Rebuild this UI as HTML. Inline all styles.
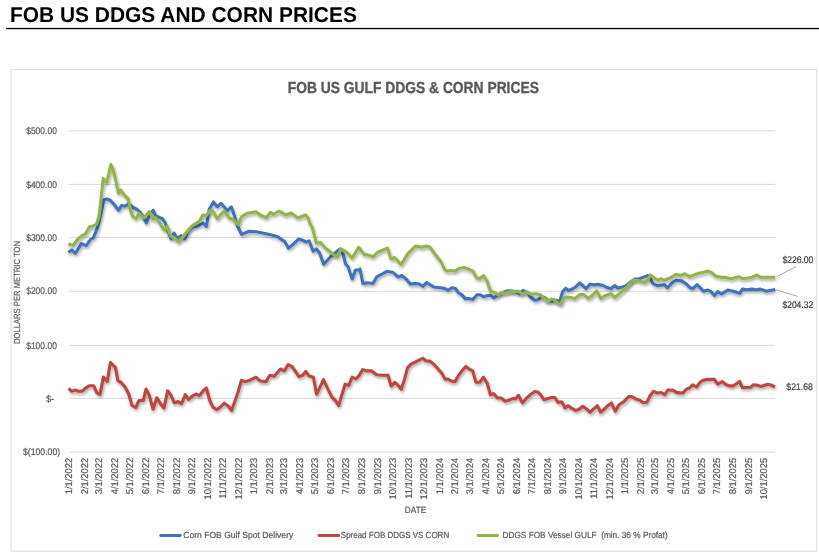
<!DOCTYPE html>
<html><head><meta charset="utf-8"><title>FOB US DDGS and Corn Prices</title>
<style>html,body{margin:0;padding:0;background:#fff;width:819px;height:554px;overflow:hidden;}
body{position:relative;font-family:"Liberation Sans", sans-serif;}</style></head>
<body>
<svg width="819" height="554" viewBox="0 0 819 554" style="position:absolute;left:0;top:0;opacity:0.999;text-rendering:geometricPrecision" font-family='"Liberation Sans", sans-serif'>
<defs><filter id="sh" x="-5%" y="-10%" width="110%" height="130%">
<feGaussianBlur in="SourceAlpha" stdDeviation="1.5" result="b"/>
<feOffset in="b" dx="0.8" dy="2.3" result="o"/>
<feComponentTransfer in="o" result="o2"><feFuncA type="linear" slope="0.35"/></feComponentTransfer>
<feMerge><feMergeNode in="o2"/><feMergeNode in="SourceGraphic"/></feMerge></filter></defs>
<rect x="6" y="27.9" width="813" height="1.3" fill="#000"/>
<rect x="11.1" y="69.6" width="805.5" height="481.6" fill="#fff" stroke="#e2e2e2" stroke-width="1.2"/>
<rect x="68.7" y="130.40" width="706.4" height="1" fill="#d9d9d9"/>
<rect x="68.7" y="183.90" width="706.4" height="1" fill="#d9d9d9"/>
<rect x="68.7" y="236.90" width="706.4" height="1" fill="#d9d9d9"/>
<rect x="68.7" y="290.75" width="706.4" height="1" fill="#d9d9d9"/>
<rect x="68.7" y="344.85" width="706.4" height="1" fill="#d9d9d9"/>
<rect x="68.7" y="397.80" width="706.4" height="1" fill="#d9d9d9"/>
<rect x="68.7" y="451.70" width="706.4" height="1" fill="#d9d9d9"/>
<text id="page_title" x="9.90" y="21.80" font-size="21.4" fill="#000" font-weight="bold" textLength="347.00" lengthAdjust="spacingAndGlyphs">FOB US DDGS AND CORN PRICES</text>
<text id="chart_title" x="287.80" y="93.00" font-size="16.0" fill="#595959" font-weight="bold" stroke="#595959" stroke-width="0.35" textLength="251.07" lengthAdjust="spacingAndGlyphs">FOB US GULF DDGS &amp; CORN PRICES</text>
<text id="y500" x="26.20" y="134.10" font-size="9.6" fill="#595959" font-weight="normal" stroke="#595959" stroke-width="0.2" textLength="30.67" lengthAdjust="spacingAndGlyphs">$500.00</text>
<text id="y400" x="26.20" y="187.60" font-size="9.6" fill="#595959" font-weight="normal" stroke="#595959" stroke-width="0.2" textLength="30.67" lengthAdjust="spacingAndGlyphs">$400.00</text>
<text id="y300" x="26.20" y="240.60" font-size="9.6" fill="#595959" font-weight="normal" stroke="#595959" stroke-width="0.2" textLength="30.67" lengthAdjust="spacingAndGlyphs">$300.00</text>
<text id="y200" x="26.20" y="294.45" font-size="9.6" fill="#595959" font-weight="normal" stroke="#595959" stroke-width="0.2" textLength="30.67" lengthAdjust="spacingAndGlyphs">$200.00</text>
<text id="y100" x="26.20" y="348.55" font-size="9.6" fill="#595959" font-weight="normal" stroke="#595959" stroke-width="0.2" textLength="30.67" lengthAdjust="spacingAndGlyphs">$100.00</text>
<text id="y0" x="46.00" y="401.50" font-size="9.6" fill="#595959" font-weight="normal" stroke="#595959" stroke-width="0.2" textLength="8.23" lengthAdjust="spacingAndGlyphs">$-</text>
<text id="yneg" x="23.00" y="455.40" font-size="9.6" fill="#595959" font-weight="normal" stroke="#595959" stroke-width="0.2" textLength="37.09" lengthAdjust="spacingAndGlyphs">$(100.00)</text>
<text id="date" x="404.80" y="512.90" font-size="9.2" fill="#595959" font-weight="normal" stroke="#595959" stroke-width="0.2" textLength="21.40" lengthAdjust="spacingAndGlyphs">DATE</text>
<text id="leg1" x="183.20" y="537.80" font-size="8.9" fill="#595959" font-weight="normal" stroke="#595959" stroke-width="0.2" textLength="110.09" lengthAdjust="spacingAndGlyphs">Corn FOB Gulf Spot Delivery</text>
<text id="leg2" x="340.80" y="537.80" font-size="8.9" fill="#595959" font-weight="normal" stroke="#595959" stroke-width="0.2" textLength="108.36" lengthAdjust="spacingAndGlyphs">Spread FOB DDGS VS CORN</text>
<text id="leg3" x="502.50" y="537.80" font-size="8.9" fill="#595959" font-weight="normal" stroke="#595959" stroke-width="0.2" textLength="165.15" lengthAdjust="spacingAndGlyphs">DDGS FOB Vessel GULF &#160;(min. 36 % Profat)</text>
<text id="l226" x="782.40" y="262.50" font-size="9.6" fill="#404040" font-weight="normal" stroke="#404040" stroke-width="0.2" textLength="30.99" lengthAdjust="spacingAndGlyphs">$226.00</text>
<text id="l204" x="782.40" y="307.60" font-size="9.6" fill="#404040" font-weight="normal" stroke="#404040" stroke-width="0.2" textLength="30.84" lengthAdjust="spacingAndGlyphs">$204.32</text>
<text id="l21" x="786.30" y="390.00" font-size="9.6" fill="#404040" font-weight="normal" stroke="#404040" stroke-width="0.2" textLength="26.60" lengthAdjust="spacingAndGlyphs">$21.68</text>
<text id="ytitle" transform="translate(20.40,344.00) rotate(-90)" font-size="8.9" fill="#595959" stroke="#595959" stroke-width="0.2" textLength="103.00" lengthAdjust="spacingAndGlyphs">DOLLARS PER METRIC TON</text>
<text transform="translate(72.04,457.90) rotate(-90) scale(0.955,1)" font-size="9.8" fill="#595959" stroke="#595959" stroke-width="0.2" text-anchor="end">1/1/2022</text>
<text transform="translate(87.77,457.90) rotate(-90) scale(0.955,1)" font-size="9.8" fill="#595959" stroke="#595959" stroke-width="0.2" text-anchor="end">2/1/2022</text>
<text transform="translate(101.98,457.90) rotate(-90) scale(0.955,1)" font-size="9.8" fill="#595959" stroke="#595959" stroke-width="0.2" text-anchor="end">3/1/2022</text>
<text transform="translate(117.72,457.90) rotate(-90) scale(0.955,1)" font-size="9.8" fill="#595959" stroke="#595959" stroke-width="0.2" text-anchor="end">4/1/2022</text>
<text transform="translate(132.94,457.90) rotate(-90) scale(0.955,1)" font-size="9.8" fill="#595959" stroke="#595959" stroke-width="0.2" text-anchor="end">5/1/2022</text>
<text transform="translate(148.68,457.90) rotate(-90) scale(0.955,1)" font-size="9.8" fill="#595959" stroke="#595959" stroke-width="0.2" text-anchor="end">6/1/2022</text>
<text transform="translate(163.90,457.90) rotate(-90) scale(0.955,1)" font-size="9.8" fill="#595959" stroke="#595959" stroke-width="0.2" text-anchor="end">7/1/2022</text>
<text transform="translate(179.63,457.90) rotate(-90) scale(0.955,1)" font-size="9.8" fill="#595959" stroke="#595959" stroke-width="0.2" text-anchor="end">8/1/2022</text>
<text transform="translate(195.37,457.90) rotate(-90) scale(0.955,1)" font-size="9.8" fill="#595959" stroke="#595959" stroke-width="0.2" text-anchor="end">9/1/2022</text>
<text transform="translate(210.59,457.90) rotate(-90) scale(0.955,1)" font-size="9.8" fill="#595959" stroke="#595959" stroke-width="0.2" text-anchor="end">10/1/2022</text>
<text transform="translate(226.33,457.90) rotate(-90) scale(0.955,1)" font-size="9.8" fill="#595959" stroke="#595959" stroke-width="0.2" text-anchor="end">11/1/2022</text>
<text transform="translate(241.55,457.90) rotate(-90) scale(0.955,1)" font-size="9.8" fill="#595959" stroke="#595959" stroke-width="0.2" text-anchor="end">12/1/2022</text>
<text transform="translate(257.28,457.90) rotate(-90) scale(0.955,1)" font-size="9.8" fill="#595959" stroke="#595959" stroke-width="0.2" text-anchor="end">1/1/2023</text>
<text transform="translate(273.02,457.90) rotate(-90) scale(0.955,1)" font-size="9.8" fill="#595959" stroke="#595959" stroke-width="0.2" text-anchor="end">2/1/2023</text>
<text transform="translate(287.23,457.90) rotate(-90) scale(0.955,1)" font-size="9.8" fill="#595959" stroke="#595959" stroke-width="0.2" text-anchor="end">3/1/2023</text>
<text transform="translate(302.96,457.90) rotate(-90) scale(0.955,1)" font-size="9.8" fill="#595959" stroke="#595959" stroke-width="0.2" text-anchor="end">4/1/2023</text>
<text transform="translate(318.19,457.90) rotate(-90) scale(0.955,1)" font-size="9.8" fill="#595959" stroke="#595959" stroke-width="0.2" text-anchor="end">5/1/2023</text>
<text transform="translate(333.92,457.90) rotate(-90) scale(0.955,1)" font-size="9.8" fill="#595959" stroke="#595959" stroke-width="0.2" text-anchor="end">6/1/2023</text>
<text transform="translate(349.15,457.90) rotate(-90) scale(0.955,1)" font-size="9.8" fill="#595959" stroke="#595959" stroke-width="0.2" text-anchor="end">7/1/2023</text>
<text transform="translate(364.88,457.90) rotate(-90) scale(0.955,1)" font-size="9.8" fill="#595959" stroke="#595959" stroke-width="0.2" text-anchor="end">8/1/2023</text>
<text transform="translate(380.61,457.90) rotate(-90) scale(0.955,1)" font-size="9.8" fill="#595959" stroke="#595959" stroke-width="0.2" text-anchor="end">9/1/2023</text>
<text transform="translate(395.84,457.90) rotate(-90) scale(0.955,1)" font-size="9.8" fill="#595959" stroke="#595959" stroke-width="0.2" text-anchor="end">10/1/2023</text>
<text transform="translate(411.57,457.90) rotate(-90) scale(0.955,1)" font-size="9.8" fill="#595959" stroke="#595959" stroke-width="0.2" text-anchor="end">11/1/2023</text>
<text transform="translate(426.80,457.90) rotate(-90) scale(0.955,1)" font-size="9.8" fill="#595959" stroke="#595959" stroke-width="0.2" text-anchor="end">12/1/2023</text>
<text transform="translate(442.53,457.90) rotate(-90) scale(0.955,1)" font-size="9.8" fill="#595959" stroke="#595959" stroke-width="0.2" text-anchor="end">1/1/2024</text>
<text transform="translate(458.26,457.90) rotate(-90) scale(0.955,1)" font-size="9.8" fill="#595959" stroke="#595959" stroke-width="0.2" text-anchor="end">2/1/2024</text>
<text transform="translate(472.98,457.90) rotate(-90) scale(0.955,1)" font-size="9.8" fill="#595959" stroke="#595959" stroke-width="0.2" text-anchor="end">3/1/2024</text>
<text transform="translate(488.71,457.90) rotate(-90) scale(0.955,1)" font-size="9.8" fill="#595959" stroke="#595959" stroke-width="0.2" text-anchor="end">4/1/2024</text>
<text transform="translate(503.94,457.90) rotate(-90) scale(0.955,1)" font-size="9.8" fill="#595959" stroke="#595959" stroke-width="0.2" text-anchor="end">5/1/2024</text>
<text transform="translate(519.67,457.90) rotate(-90) scale(0.955,1)" font-size="9.8" fill="#595959" stroke="#595959" stroke-width="0.2" text-anchor="end">6/1/2024</text>
<text transform="translate(534.90,457.90) rotate(-90) scale(0.955,1)" font-size="9.8" fill="#595959" stroke="#595959" stroke-width="0.2" text-anchor="end">7/1/2024</text>
<text transform="translate(550.63,457.90) rotate(-90) scale(0.955,1)" font-size="9.8" fill="#595959" stroke="#595959" stroke-width="0.2" text-anchor="end">8/1/2024</text>
<text transform="translate(566.36,457.90) rotate(-90) scale(0.955,1)" font-size="9.8" fill="#595959" stroke="#595959" stroke-width="0.2" text-anchor="end">9/1/2024</text>
<text transform="translate(581.59,457.90) rotate(-90) scale(0.955,1)" font-size="9.8" fill="#595959" stroke="#595959" stroke-width="0.2" text-anchor="end">10/1/2024</text>
<text transform="translate(597.32,457.90) rotate(-90) scale(0.955,1)" font-size="9.8" fill="#595959" stroke="#595959" stroke-width="0.2" text-anchor="end">11/1/2024</text>
<text transform="translate(612.55,457.90) rotate(-90) scale(0.955,1)" font-size="9.8" fill="#595959" stroke="#595959" stroke-width="0.2" text-anchor="end">12/1/2024</text>
<text transform="translate(628.28,457.90) rotate(-90) scale(0.955,1)" font-size="9.8" fill="#595959" stroke="#595959" stroke-width="0.2" text-anchor="end">1/1/2025</text>
<text transform="translate(644.02,457.90) rotate(-90) scale(0.955,1)" font-size="9.8" fill="#595959" stroke="#595959" stroke-width="0.2" text-anchor="end">2/1/2025</text>
<text transform="translate(658.23,457.90) rotate(-90) scale(0.955,1)" font-size="9.8" fill="#595959" stroke="#595959" stroke-width="0.2" text-anchor="end">3/1/2025</text>
<text transform="translate(673.96,457.90) rotate(-90) scale(0.955,1)" font-size="9.8" fill="#595959" stroke="#595959" stroke-width="0.2" text-anchor="end">4/1/2025</text>
<text transform="translate(689.18,457.90) rotate(-90) scale(0.955,1)" font-size="9.8" fill="#595959" stroke="#595959" stroke-width="0.2" text-anchor="end">5/1/2025</text>
<text transform="translate(704.92,457.90) rotate(-90) scale(0.955,1)" font-size="9.8" fill="#595959" stroke="#595959" stroke-width="0.2" text-anchor="end">6/1/2025</text>
<text transform="translate(720.14,457.90) rotate(-90) scale(0.955,1)" font-size="9.8" fill="#595959" stroke="#595959" stroke-width="0.2" text-anchor="end">7/1/2025</text>
<text transform="translate(735.88,457.90) rotate(-90) scale(0.955,1)" font-size="9.8" fill="#595959" stroke="#595959" stroke-width="0.2" text-anchor="end">8/1/2025</text>
<text transform="translate(751.61,457.90) rotate(-90) scale(0.955,1)" font-size="9.8" fill="#595959" stroke="#595959" stroke-width="0.2" text-anchor="end">9/1/2025</text>
<text transform="translate(766.83,457.90) rotate(-90) scale(0.955,1)" font-size="9.8" fill="#595959" stroke="#595959" stroke-width="0.2" text-anchor="end">10/1/2025</text>
<polyline points="68.7,388.4 71.4,391.2 75.7,390.1 78.5,391.2 82.2,391.2 86.0,387.9 89.3,385.7 93.6,385.7 96.9,392.8 100.1,394.4 103.4,377.1 107.2,381.4 110.4,362.5 115.3,367.3 118.0,380.9 121.2,382.5 125.4,387.5 128.7,394.0 131.9,405.4 135.7,407.5 139.0,400.5 143.3,400.5 146.0,389.1 149.2,395.1 153.0,409.2 156.8,397.8 160.6,403.7 163.9,408.1 167.7,390.7 170.9,395.1 174.2,402.7 178.2,401.6 181.5,403.7 185.3,394.5 188.5,399.4 192.3,396.2 196.1,394.0 199.4,395.6 203.2,390.7 206.4,388.0 209.7,400.5 212.9,407.0 216.7,409.7 220.5,407.0 224.3,403.2 228.1,405.9 231.6,410.5 235.1,400.6 238.2,391.7 241.4,380.4 245.2,381.6 249.6,380.4 255.9,377.2 260.3,381.0 266.0,381.6 269.8,375.3 274.2,376.3 280.5,369.0 284.3,370.9 288.2,364.6 291.9,366.5 295.1,370.9 298.9,376.6 302.7,375.3 305.8,371.5 309.0,375.9 313.4,377.2 316.6,394.3 319.7,387.9 323.5,379.7 327.3,387.9 331.7,396.8 335.5,400.6 338.7,405.6 341.2,396.8 342.5,393.0 345.1,384.2 348.8,385.4 352.0,377.2 355.8,378.9 358.9,375.9 362.7,369.6 366.5,370.9 371.6,370.9 376.6,374.7 382.9,375.3 388.0,375.3 391.2,386.1 394.9,382.3 398.2,385.4 401.3,389.2 404.5,379.1 407.6,367.7 411.4,363.9 415.2,362.1 419.0,360.2 422.8,358.3 425.9,360.8 430.4,361.4 434.2,364.6 439.2,370.3 442.4,374.1 444.9,379.1 448.0,379.1 451.2,381.0 455.1,381.6 458.2,375.9 462.0,370.8 465.8,366.4 468.9,368.9 472.7,370.8 475.9,382.2 479.7,382.2 483.5,377.2 487.3,383.5 490.4,394.8 493.6,393.6 497.4,398.0 501.2,398.0 504.9,401.2 508.8,400.2 512.6,398.6 515.8,398.6 518.5,395.3 522.3,402.9 526.7,398.0 531.0,394.2 534.8,391.5 538.0,392.1 540.7,394.8 544.0,399.7 547.8,398.6 551.6,397.5 554.8,397.5 558.1,402.4 561.3,401.8 562.2,402.5 564.9,407.9 568.1,405.7 571.9,408.4 575.7,410.6 579.5,409.0 582.7,406.3 586.5,409.0 590.3,412.2 594.1,408.4 597.4,405.7 600.6,412.2 604.4,409.0 607.7,405.7 611.4,403.0 615.2,411.2 618.8,405.0 623.7,401.7 629.1,396.3 632.3,396.8 636.1,399.0 639.4,400.1 643.2,402.8 647.0,402.2 649.7,396.3 653.4,391.4 657.2,393.0 661.0,392.5 664.8,394.7 668.1,389.8 671.3,390.3 673.2,390.2 676.5,392.4 679.7,392.9 683.0,392.9 685.7,389.7 689.5,388.0 692.7,384.8 696.5,387.0 699.8,382.6 702.5,380.5 706.8,379.4 714.4,379.4 717.7,384.2 722.0,381.5 726.3,384.8 729.3,385.9 733.1,385.9 736.4,383.7 739.6,381.5 742.3,387.5 746.7,387.5 750.5,387.3 753.2,384.8 757.5,385.3 760.7,386.4 767.8,384.2 771.6,385.3 775.0,387.0" fill="none" stroke="#bd4542" stroke-width="3.1" stroke-linejoin="round" stroke-linecap="butt" filter="url(#sh)"/>
<polyline points="68.4,252.5 71.7,250.0 75.4,253.3 81.4,243.6 86.3,245.7 90.4,239.5 93.3,237.9 97.3,228.2 100.6,215.2 103.8,199.7 107.1,198.9 110.3,200.5 113.6,203.8 118.5,210.3 121.7,205.4 125.0,206.2 129.0,203.8 132.3,207.0 137.2,209.5 140.0,212.2 143.2,216.6 146.3,222.9 149.5,214.7 153.3,210.3 155.8,216.0 158.9,217.3 162.1,218.5 165.3,222.9 167.8,230.5 170.9,238.7 174.1,233.0 177.3,238.7 181.1,235.6 184.8,238.7 188.6,229.9 193.0,226.7 197.5,226.1 199.3,225.2 203.1,223.0 206.4,226.3 209.1,209.5 213.4,201.9 217.2,206.8 221.0,203.5 227.5,210.6 231.3,206.8 234.5,216.0 237.8,226.8 241.6,234.4 249.2,231.2 256.5,231.8 269.5,234.5 271.7,235.1 277.6,236.7 284.7,241.6 288.4,248.1 293.9,243.7 298.7,238.9 303.1,240.5 306.3,242.1 309.1,240.8 313.1,251.3 316.4,248.9 319.6,253.0 323.7,264.3 331.0,256.2 335.1,253.0 340.0,248.9 343.2,254.6 345.7,264.3 348.1,266.8 352.2,279.0 355.4,270.0 358.7,270.0 360.0,269.0 362.9,283.5 367.2,282.7 373.0,283.5 376.6,277.0 387.4,271.2 393.2,272.6 398.2,277.0 401.8,275.5 406.2,279.1 410.5,284.2 415.5,283.4 419.3,284.1 422.9,286.3 426.5,282.6 433.8,287.0 440.2,287.7 444.6,288.4 448.2,290.3 451.8,287.7 455.4,288.4 458.3,292.7 461.9,294.9 465.5,298.9 468.4,298.5 472.7,299.5 477.0,294.7 480.3,294.7 483.5,296.8 486.8,295.7 490.6,295.2 493.8,297.9 498.2,294.7 505.7,291.4 510.1,290.9 516.6,292.0 519.8,293.6 523.1,290.3 525.8,292.0 527.2,292.1 530.4,297.0 534.7,300.2 538.0,299.7 541.2,297.0 544.5,297.5 548.3,300.7 552.1,301.3 556.4,300.2 559.7,301.8 562.4,292.1 565.6,288.3 568.3,290.5 572.7,288.8 575.9,286.7 579.7,282.9 582.7,285.5 586.0,288.7 589.7,284.4 594.1,284.9 599.0,284.4 603.3,285.5 607.1,287.6 610.9,288.7 614.7,285.5 617.9,288.2 622.2,287.1 625.5,286.0 629.8,282.7 634.7,279.0 639.3,278.7 643.7,277.1 648.0,275.5 650.7,279.2 652.9,283.6 657.2,285.7 664.2,284.7 667.5,287.9 671.8,283.0 676.2,280.3 681.6,280.9 685.9,283.6 690.2,287.9 693.2,288.4 697.0,284.7 700.3,287.9 703.5,291.2 707.9,290.1 711.1,291.7 714.4,295.5 717.6,291.7 721.4,293.9 727.9,290.1 734.9,291.8 739.7,293.4 742.5,289.1 746.8,289.7 751.7,289.1 756.0,289.7 760.3,289.1 766.8,291.3 771.2,290.2 775.3,289.4" fill="none" stroke="#4272bb" stroke-width="3.1" stroke-linejoin="round" stroke-linecap="butt" filter="url(#sh)"/>
<polyline points="68.4,244.1 73.3,245.2 77.4,239.5 82.3,235.4 85.5,233.8 89.6,226.8 93.6,225.7 96.5,224.1 98.9,216.8 101.4,195.7 103.2,178.6 106.9,182.0 110.9,164.6 112.8,168.8 115.2,177.8 118.5,193.2 120.9,190.0 124.1,194.8 128.2,198.9 130.7,211.1 133.1,216.8 136.3,218.4 138.8,213.5 143.8,217.9 149.5,211.6 153.3,219.2 155.8,217.9 158.9,221.7 164.0,229.9 167.2,226.7 170.9,236.2 174.7,238.1 178.5,241.9 182.9,236.8 188.0,230.5 191.8,226.1 195.6,223.6 199.3,221.4 203.1,214.9 205.8,216.0 210.7,210.0 213.4,211.7 217.2,218.7 221.0,214.4 224.2,211.1 229.7,218.2 232.4,218.7 238.3,224.7 241.6,216.5 247.0,213.3 256.0,211.8 260.3,215.0 266.2,217.7 270.6,212.3 273.3,214.5 278.7,211.2 281.4,212.3 285.7,215.0 291.2,212.9 297.7,217.7 305.8,215.0 308.5,218.8 310.0,223.7 312.3,227.8 316.4,243.2 320.4,242.4 324.5,247.3 329.4,251.3 333.5,254.6 337.5,257.0 340.8,248.9 346.5,252.2 352.2,257.8 358.7,247.3 364.3,254.6 367.2,254.6 373.0,256.8 377.3,252.5 387.4,248.1 391.0,258.9 394.6,257.5 401.1,264.7 407.6,253.9 415.5,246.0 421.5,247.3 426.5,245.9 430.1,247.3 435.2,254.5 441.0,261.7 444.6,269.7 447.5,271.1 451.1,270.4 454.7,271.1 459.7,268.2 464.0,267.5 468.4,268.9 473.2,271.4 476.5,277.9 479.7,278.4 483.5,275.7 487.3,281.7 490.6,291.4 493.8,292.0 498.2,294.7 501.4,292.5 505.7,293.0 511.2,291.4 518.7,291.4 522.5,294.1 525.8,292.0 528.2,293.2 531.5,294.2 535.8,293.7 540.2,294.8 544.0,298.0 547.7,301.3 551.0,299.1 554.2,299.7 557.5,302.9 560.7,304.5 563.4,298.6 565.6,297.0 570.5,297.5 574.8,298.6 578.1,295.9 580.8,294.2 583.8,294.7 588.1,298.4 591.9,295.7 596.8,290.9 600.6,298.4 604.9,295.7 610.9,293.6 614.7,297.4 619.0,294.1 623.3,290.3 627.7,286.0 632.0,281.1 634.2,280.0 640.0,281.1 644.2,282.5 647.5,280.9 650.2,274.9 654.0,277.6 657.7,280.3 661.0,278.7 664.2,280.3 670.7,277.6 676.2,274.4 680.5,275.5 684.8,273.8 689.2,276.5 694.3,274.9 698.7,273.3 703.5,272.2 707.9,271.1 711.7,272.7 715.5,276.0 720.3,277.1 725.7,277.6 731.7,278.7 735.5,277.6 739.2,276.7 742.5,278.8 746.2,278.3 751.7,277.2 757.1,275.0 760.3,277.2 765.7,277.2 771.2,277.2 775.3,277.2" fill="none" stroke="#93b44c" stroke-width="3.1" stroke-linejoin="round" stroke-linecap="butt" filter="url(#sh)"/>
<line x1="776.5" y1="276.8" x2="796.2" y2="266.4" stroke="#7f7f7f" stroke-width="0.7"/>
<line x1="776.5" y1="289.8" x2="797.6" y2="296.4" stroke="#7f7f7f" stroke-width="0.7"/>
<line x1="160.70000000000002" y1="535.5" x2="180.29999999999998" y2="535.5" stroke="#4272bb" stroke-width="2.8" stroke-linecap="round"/>
<line x1="319.0" y1="535.5" x2="338.90000000000003" y2="535.5" stroke="#bd4542" stroke-width="2.8" stroke-linecap="round"/>
<line x1="478.09999999999997" y1="535.5" x2="497.5" y2="535.5" stroke="#93b44c" stroke-width="2.8" stroke-linecap="round"/>
</svg>
</body></html>
